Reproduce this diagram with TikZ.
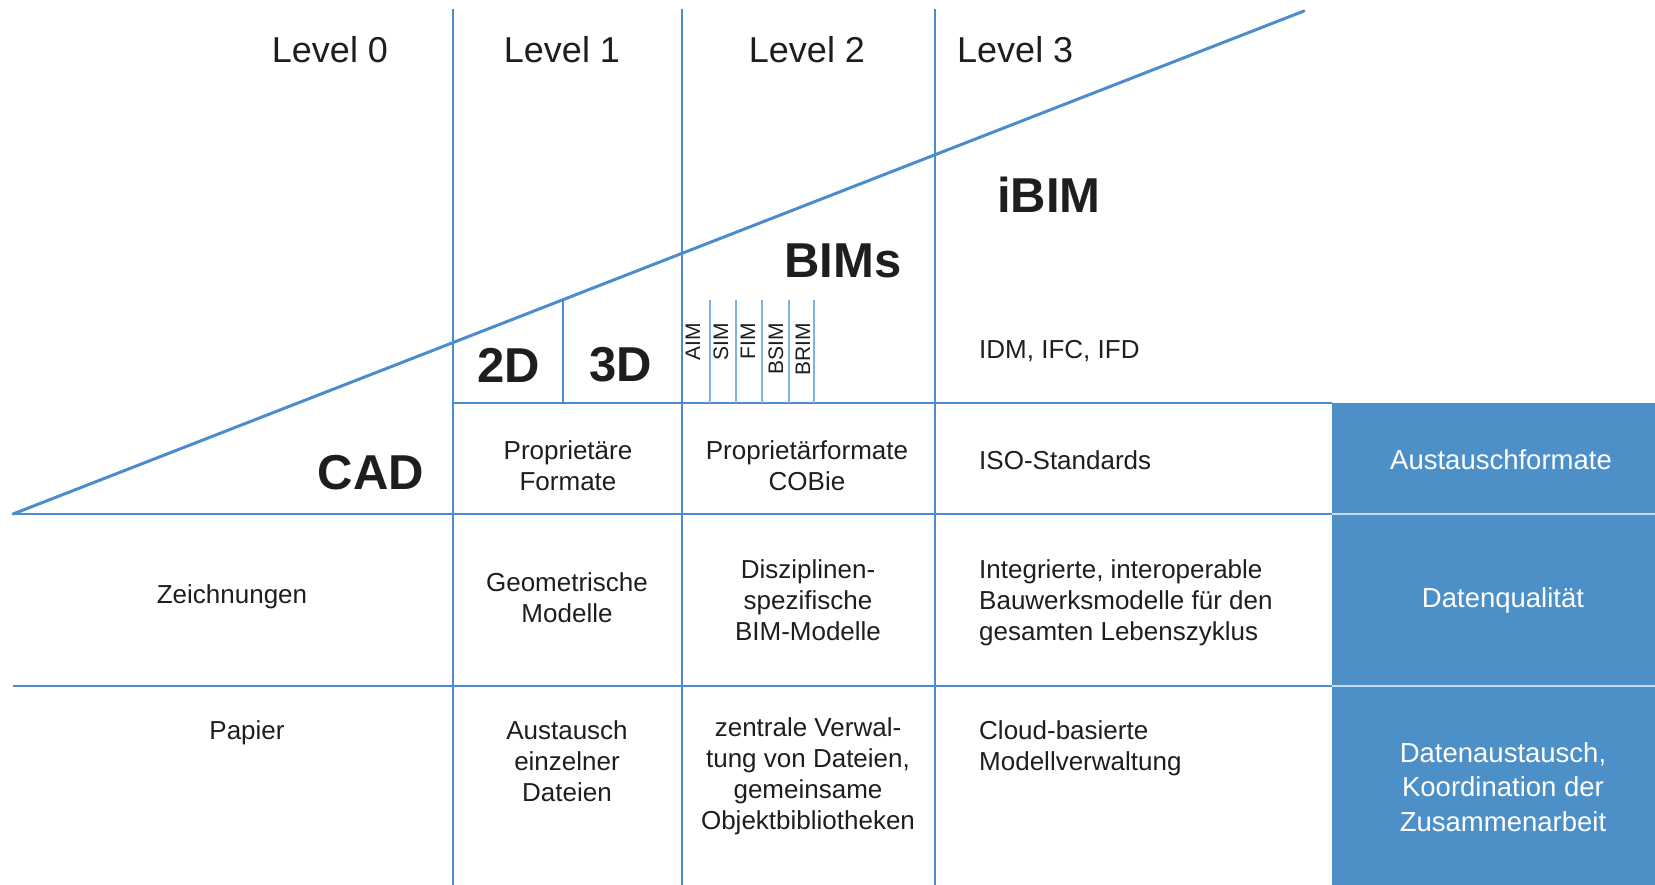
\documentclass[tikz,border=0pt]{standalone}
\usepackage{fontspec}
\setmainfont{Liberation Sans}
\definecolor{lineblue}{RGB}{74,140,204}
\definecolor{sublineblue}{RGB}{128,178,224}
\definecolor{boxblue}{RGB}{77,144,200}
\definecolor{sepblue}{RGB}{196,220,242}
\definecolor{txt}{RGB}{30,30,30}
\begin{document}
\begin{tikzpicture}[x=1pt,y=-1pt,
  every node/.style={inner sep=0pt,text=txt},
  gridline/.style={draw=lineblue,line width=2.6pt},
  subline/.style={draw=sublineblue,line width=2.2pt},
  diagline/.style={draw=lineblue,line width=3pt,line cap=round},
  sepline/.style={draw=sepblue,line width=2.6pt},
  body/.style={font=\fontsize{26}{31}\selectfont,align=center},
  bodyl/.style={font=\fontsize{26}{31}\selectfont,align=left,anchor=west},
  level/.style={font=\fontsize{36}{40}\selectfont,anchor=base},
  big/.style={font=\bfseries\fontsize{49}{54}\selectfont},
  tag/.style={font=\fontsize{21}{24}\selectfont,rotate=90,anchor=east},
  side/.style={font=\fontsize{27.5}{34.5}\selectfont,align=center,text=white}]
\useasboundingbox (0,0) rectangle (1655,885);
% blue side column
\coordinate (bx1) at (1332,403);
\coordinate (bx2) at (1656,886);
\fill[boxblue] (bx1) rectangle (bx2);
\coordinate (s1l) at (1332,514); \coordinate (s1r) at (1656,514);
\coordinate (s2l) at (1332,686); \coordinate (s2r) at (1656,686);
\draw[sepline] (s1l) -- (s1r);
\draw[sepline] (s2l) -- (s2r);
% vertical grid lines
\coordinate (v1t) at (453,9);  \coordinate (v1b) at (453,886);
\coordinate (v2t) at (682,9);  \coordinate (v2b) at (682,886);
\coordinate (v3t) at (935,9);  \coordinate (v3b) at (935,886);
\draw[gridline] (v1t) -- (v1b);
\draw[gridline] (v2t) -- (v2b);
\draw[gridline] (v3t) -- (v3b);
% horizontal grid lines
\coordinate (h0l) at (453,403); \coordinate (h0r) at (1332,403);
\coordinate (h1l) at (13,514);  \coordinate (h1r) at (1332,514);
\coordinate (h2l) at (13,686);  \coordinate (h2r) at (1332,686);
\draw[gridline] (h0l) -- (h0r);
\draw[gridline] (h1l) -- (h1r);
\draw[gridline] (h2l) -- (h2r);
% diagonal
\coordinate (apex) at (13,514);
\coordinate (dtop) at (1304,11);
\draw[diagline] (apex) -- (dtop);
% 2D/3D divider
\coordinate (d23t) at (563,300); \coordinate (d23b) at (563,403);
\draw[gridline,line width=2.2pt] (d23t) -- (d23b);
% level 2 sub-lines
\foreach \xx/\nm in {710/a,736/b,762/c,789/d,814/e}{
  \coordinate (sub\nm t) at (\xx,300);
  \coordinate (sub\nm b) at (\xx,403);
  \draw[subline] (sub\nm t) -- (sub\nm b);
}
% level headings
\node[level] (l0) at (330,63) {Level 0};
\node[level] (l1) at (562,63) {Level 1};
\node[level] (l2) at (807,63) {Level 2};
\node[level,anchor=base west] (l3) at (957,63) {Level 3};
% big labels
\node[big] (ibim) at (1049,195) {iBIM};
\node[big] (bims) at (843,261) {BIMs};
\node[big] (d2) at (509,365) {2D};
\node[big] (d3) at (621,365) {3D};
\node[big] (cad) at (371,473) {CAD};
% rotated tags
\node[tag] (aim) at (693,323) {AIM};
\node[tag] (sim) at (721,323) {SIM};
\node[tag] (fim) at (748,323) {FIM};
\node[tag] (bsim) at (776,323) {BSIM};
\node[tag] (brim) at (803,323) {BRIM};
\node[bodyl] (idm) at (979,351) {IDM, IFC, IFD};
% row 1
\node[body] (r1c1) at (568,466) {Propriet\"are\\Formate};
\node[body] (r1c2) at (807,466) {Propriet\"arformate\\COBie};
\node[bodyl] (r1c3) at (979,460) {ISO-Standards};
\node[side] (r1s) at (1501,460) {Austauschformate};
% row 2
\node[body] (r2c0) at (232,597) {Zeichnungen};
\node[body] (r2c1) at (567,598) {Geometrische\\Modelle};
\node[body] (r2c2) at (808,600) {Disziplinen-\\spezifische\\BIM-Modelle};
\node[bodyl] (r2c3) at (979,603) {Integrierte, interoperable\\Bauwerksmodelle f\"ur den\\gesamten Lebenszyklus};
\node[side] (r2s) at (1503,600) {Datenqualit\"at};
% row 3
\node[body] (r3c0) at (247,733) {Papier};
\node[body] (r3c1) at (567,761) {Austausch\\einzelner\\Dateien};
\node[body] (r3c2) at (808,776) {zentrale Verwal-\\tung von Dateien,\\gemeinsame\\Objektbibliotheken};
\node[bodyl] (r3c3) at (979,748) {Cloud-basierte\\Modellverwaltung};
\node[side] (r3s) at (1503,787) {Datenaustausch,\\Koordination der\\Zusammenarbeit};
\end{tikzpicture}
\end{document}
